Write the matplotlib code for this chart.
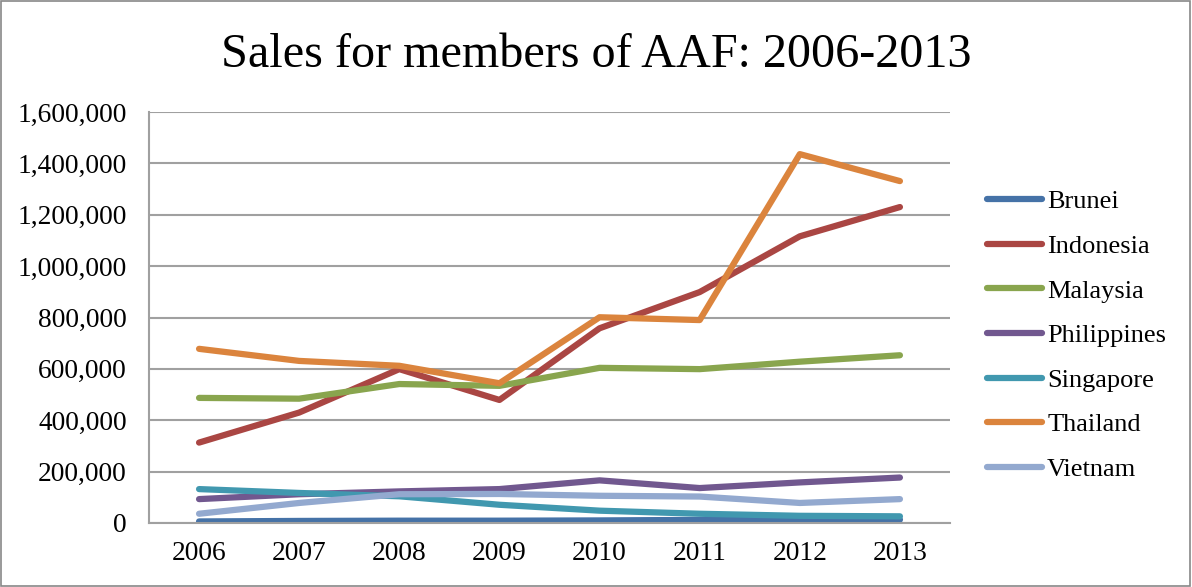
import matplotlib
matplotlib.use('Agg')
import matplotlib.pyplot as plt
from matplotlib.patches import Rectangle
from matplotlib.ticker import FuncFormatter

years = ['2006', '2007', '2008', '2009', '2010', '2011', '2012', '2013']

brunei = [6000, 8000, 9000, 9000, 10000, 12000, 13000, 13000]
indonesia = [313000, 430000, 599000, 479000, 758000, 899000, 1116000, 1230000]
malaysia = [487000, 484000, 541000, 534000, 604000, 599000, 628000, 653000]
philippines = [93000, 112000, 123000, 132000, 166000, 136000, 158000, 177000]
singapore = [132000, 117000, 104000, 71000, 48000, 36000, 28000, 26000]
thailand = [678000, 631000, 612000, 544000, 801000, 790000, 1436000, 1331000]
vietnam = [36000, 78000, 112000, 113000, 106000, 103000, 78000, 93000]

series = [
    ('Brunei', brunei, '#4572A7'),
    ('Indonesia', indonesia, '#AA4643'),
    ('Malaysia', malaysia, '#89A54E'),
    ('Philippines', philippines, '#71588F'),
    ('Singapore', singapore, '#4198AF'),
    ('Thailand', thailand, '#DB843D'),
    ('Vietnam', vietnam, '#93A9CF'),
]

plt.rcParams['font.family'] = ['Liberation Serif', 'DejaVu Serif']

fig = plt.figure(figsize=(11.92, 5.87), dpi=100)
ax = fig.add_axes([149 / 1192, 1 - 523 / 587, (950 - 149) / 1192, (523 - 112) / 587])

x = list(range(len(years)))
for name, vals, col in series:
    ax.plot(x, vals, color=col, lw=4.5, solid_capstyle='round', solid_joinstyle='round', label=name)

ax.set_xlim(-0.5, len(years) - 0.5)
ax.set_ylim(0, 1600000)
ax.set_yticks(range(0, 1600001, 200000))
ax.yaxis.set_major_formatter(FuncFormatter(lambda v, p: f'{int(v):,}'))
ax.set_xticks(x)
ax.set_xticklabels(years)
ax.tick_params(axis='both', length=0, labelsize=19.8, colors='black')
ax.tick_params(axis='y', pad=16)
ax.tick_params(axis='x', pad=13)
ax.grid(axis='y', color='#A0A0A0', lw=1.5)
ax.set_axisbelow(True)
for s in ['top', 'right']:
    ax.spines[s].set_visible(False)
for s in ['left', 'bottom']:
    ax.spines[s].set_color('#A0A0A0')
    ax.spines[s].set_linewidth(1.5)

fig.text(0.5, 1 - 55 / 587, 'Sales for members of AAF: 2006-2013',
         ha='center', va='center', fontsize=34.7)

fig.legend(loc='center left', bbox_to_anchor=(987 / 1192, 1 - 335.5 / 587),
           frameon=False, fontsize=19, handlelength=2.1, handletextpad=0.18,
           labelspacing=0.8, borderpad=0, borderaxespad=0)

fig.patches.append(Rectangle((0.001, 0.001), 0.997, 0.997, transform=fig.transFigure,
                             fill=False, edgecolor='#888888', lw=1.2))

fig.savefig('out.png', dpi=100)
